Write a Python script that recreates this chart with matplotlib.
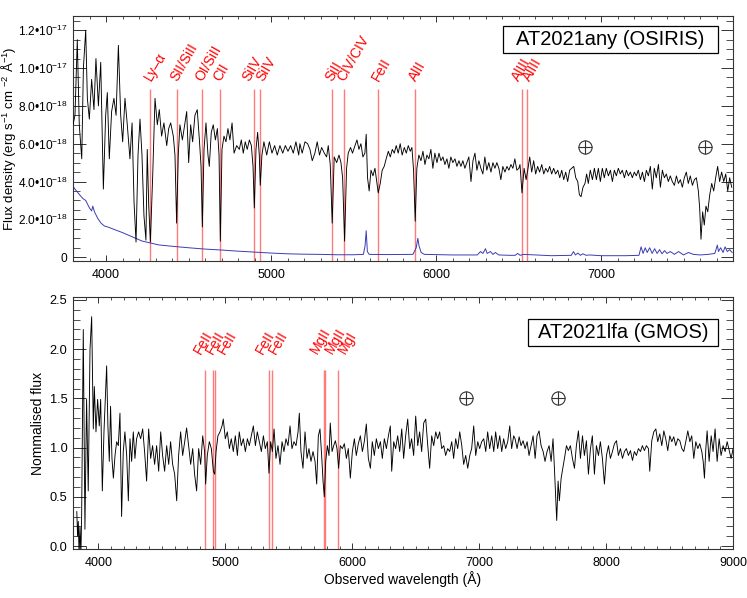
"""Two-panel spectrum figure: AT2021any (OSIRIS) and AT2021lfa (GMOS)."""

import matplotlib

matplotlib.use("Agg")
import matplotlib.pyplot as plt
import numpy as np
from matplotlib.patches import Rectangle
from matplotlib.ticker import FixedLocator, FuncFormatter, MultipleLocator

plt.rcParams["font.family"] = ["Liberation Sans", "DejaVu Sans"]
plt.rcParams["mathtext.fontset"] = "custom"
plt.rcParams["mathtext.rm"] = "Liberation Sans"
plt.rcParams["mathtext.it"] = "Liberation Sans:italic"
plt.rcParams["mathtext.bf"] = "Liberation Sans:bold"

# --- AT2021any (OSIRIS): flux in units of 1e-18 erg/s/cm^2/A ---
any_wave = [
    3800, 3812, 3826, 3838, 3853, 3863, 3877, 3887, 3899, 3913, 3927, 3939, 3954, 3968, 3984,
    3998, 4008, 4020, 4034, 4048, 4061, 4075, 4089, 4101, 4115, 4129, 4145, 4158, 4170, 4182,
    4194, 4206, 4218, 4230, 4242, 4250, 4259, 4269, 4283, 4297, 4311, 4323, 4337, 4351, 4368,
    4380, 4392, 4408, 4418, 4428, 4438, 4448, 4463, 4477, 4489, 4501, 4513, 4525, 4539, 4553,
    4566, 4576, 4584, 4594, 4606, 4618, 4626, 4638, 4650, 4663, 4675, 4685, 4693, 4703, 4715,
    4727, 4739, 4751, 4764, 4776, 4792, 4808, 4820, 4832, 4844, 4856, 4869, 4881, 4891, 4899,
    4909, 4919, 4929, 4935, 4945, 4957, 4974, 4990, 5006, 5022, 5038, 5054, 5071, 5087, 5103,
    5119, 5135, 5151, 5168, 5175, 5189, 5206, 5222, 5236, 5250, 5266, 5280, 5294, 5307, 5323,
    5337, 5347, 5359, 5371, 5383, 5398, 5412, 5424, 5434, 5446, 5458, 5468, 5482, 5494, 5509,
    5521, 5533, 5545, 5557, 5569, 5577, 5585, 5595, 5606, 5618, 5630, 5642, 5650, 5662, 5674,
    5686, 5698, 5711, 5723, 5735, 5747, 5759, 5771, 5783, 5795, 5808, 5820, 5832, 5844, 5854,
    5864, 5874, 5884, 5896, 5909, 5921, 5933, 5945, 5957, 5969, 5981, 5993, 6006, 6018, 6030,
    6042, 6054, 6066, 6078, 6090, 6102, 6115, 6127, 6139, 6151, 6163, 6175, 6187, 6199, 6212,
    6224, 6236, 6248, 6260, 6272, 6284, 6296, 6308, 6320, 6333, 6345, 6357, 6369, 6381, 6393,
    6405, 6418, 6430, 6442, 6454, 6466, 6478, 6490, 6502, 6509, 6521, 6534, 6546, 6556, 6568,
    6580, 6592, 6604, 6616, 6628, 6641, 6653, 6665, 6677, 6689, 6701, 6713, 6725, 6738, 6750,
    6762, 6774, 6786, 6798, 6810, 6822, 6835, 6847, 6859, 6869, 6879, 6891, 6903, 6913, 6923,
    6935, 6948, 6960, 6972, 6984, 6996, 7008, 7020, 7032, 7045, 7057, 7069, 7081, 7093, 7105,
    7117, 7129, 7142, 7154, 7166, 7178, 7190, 7202, 7214, 7226, 7239, 7251, 7263, 7275, 7287,
    7299, 7311, 7323, 7335, 7348, 7360, 7372, 7384, 7396, 7408, 7420, 7432, 7445, 7457, 7469,
    7481, 7493, 7505, 7517, 7529, 7541, 7554, 7566, 7578, 7590, 7598, 7606, 7616, 7626, 7636,
    7647, 7659, 7671, 7683, 7695, 7707, 7719, 7731, 7744, 7756, 7768, 7780, 7792,
]
any_flux = [
    7.0, 7.5, 11.5, 7.0, 5.2, 10.0, 12.0, 8.4, 7.3, 9.4, 7.8, 10.5, 8.0, 10.3, 3.6,
    7.5, 8.7, 5.2, 7.7, 8.4, 7.5, 11.2, 7.5, 6.1, 8.4, 7.0, 5.2, 7.1, 2.9, 0.8,
    5.4, 7.3, 5.4, 2.2, 0.9, 5.7, 2.7, 0.8, 4.3, 8.4, 7.0, 7.8, 6.4, 7.1, 5.9,
    6.8, 7.1, 6.4, 5.4, 1.8, 5.4, 7.0, 6.2, 7.0, 7.7, 5.0, 7.0, 6.1, 7.5, 7.8,
    6.2, 4.8, 1.6, 5.7, 7.1, 5.4, 4.8, 6.6, 7.0, 6.2, 6.8, 5.4, 0.85, 5.7, 6.4,
    6.1, 6.8, 6.2, 7.1, 5.5, 5.9, 5.7, 6.2, 5.5, 6.1, 5.7, 6.2, 5.9, 4.8, 2.6,
    5.7, 6.6, 5.4, 3.8, 5.4, 6.1, 5.4, 6.1, 5.5, 5.9, 5.4, 5.9, 5.5, 5.9, 5.6,
    5.9, 5.5, 6.1, 5.4, 6.0, 5.5, 6.1, 6.0, 5.7, 5.1, 5.5, 6.1, 5.4, 5.8, 5.5,
    5.3, 5.9, 4.9, 1.8, 5.3, 5.0, 5.4, 5.0, 4.2, 0.85, 4.7, 5.5, 5.8, 5.5, 5.9,
    6.2, 5.7, 6.0, 5.3, 5.5, 6.5, 4.2, 3.5, 4.6, 4.3, 4.7, 3.9, 3.4, 3.9, 4.6,
    4.8, 5.2, 5.6, 5.3, 5.7, 5.5, 5.9, 5.5, 6.0, 5.4, 5.8, 5.5, 5.9, 5.6, 5.8,
    4.6, 1.9, 4.7, 5.4, 5.1, 5.6, 4.9, 5.4, 5.2, 5.7, 4.7, 5.5, 5.0, 5.5, 5.1,
    5.3, 4.9, 5.2, 4.7, 5.3, 5.0, 5.2, 4.8, 5.1, 4.8, 5.1, 4.7, 5.0, 5.3, 4.0,
    5.1, 5.5, 4.6, 5.1, 4.7, 4.4, 5.3, 4.6, 5.0, 4.5, 5.0, 4.7, 5.0, 4.7, 4.1,
    4.8, 4.5, 4.8, 4.6, 4.9, 4.7, 5.2, 4.6, 4.7, 4.9, 3.4, 4.7, 4.1, 4.6, 5.3,
    4.5, 5.1, 4.4, 4.8, 4.5, 4.9, 4.4, 4.7, 4.5, 4.8, 4.4, 4.7, 4.4, 4.6, 4.2,
    4.6, 4.1, 4.5, 4.0, 4.6, 4.7, 4.8, 4.2, 4.0, 3.3, 3.2, 3.7, 3.9, 4.4, 3.9,
    4.6, 4.1, 4.7, 4.1, 4.7, 4.0, 4.7, 4.2, 4.7, 4.3, 4.6, 4.0, 4.6, 4.3, 4.7,
    4.4, 4.6, 4.2, 4.6, 4.3, 4.5, 4.2, 4.5, 4.3, 4.6, 4.1, 4.5, 4.0, 4.6, 4.3,
    4.8, 3.6, 4.7, 4.2, 4.9, 3.7, 4.6, 4.2, 4.4, 4.0, 4.3, 4.0, 3.8, 4.3, 3.9,
    4.1, 3.7, 4.2, 4.5, 3.9, 4.3, 3.8, 4.1, 4.2, 3.5, 2.6, 0.95, 2.4, 1.7, 2.7,
    2.4, 3.3, 3.9, 3.5, 4.2, 4.8, 4.0, 4.5, 4.0, 4.4, 3.5, 4.2, 3.7,
]

# error spectrum (blue), same units
err_wave = [
    3800, 3812, 3840, 3860, 3877, 3900, 3913, 3920, 3930, 3950, 3970, 3990, 4010, 4040, 4070,
    4100, 4140, 4180, 4220, 4270, 4320, 4400, 4500, 4600, 4700, 4800, 4900, 5000, 5100, 5200,
    5300, 5400, 5500, 5560, 5570, 5577, 5584, 5595, 5700, 5860, 5880, 5890, 5897, 5910, 5930,
    6100, 6250, 6270, 6284, 6300, 6310, 6330, 6345, 6360, 6380, 6450, 6480, 6495, 6510, 6530,
    6700, 6820, 6833, 6845, 6860, 6875, 6890, 6910, 6930, 7000, 7150, 7230, 7243, 7255, 7268,
    7280, 7295, 7310, 7325, 7340, 7355, 7370, 7385, 7400, 7420, 7445, 7470, 7500, 7530, 7560,
    7600, 7650, 7690, 7705, 7712, 7725, 7740, 7752, 7765, 7780, 7795,
]
err_flux = [
    3.75, 3.6, 3.3, 3.1, 3.0, 2.6, 2.45, 2.7, 2.4, 2.05, 1.8, 1.65, 1.6, 1.5, 1.4,
    1.3, 1.15, 1.0, 0.85, 0.75, 0.65, 0.58, 0.5, 0.43, 0.38, 0.32, 0.27, 0.22, 0.18, 0.16,
    0.15, 0.13, 0.13, 0.15, 0.6, 1.4, 0.3, 0.15, 0.14, 0.15, 0.5, 1.0, 0.6, 0.25, 0.15,
    0.12, 0.12, 0.3, 0.2, 0.45, 0.2, 0.3, 0.15, 0.25, 0.12, 0.1, 0.1, 0.2, 0.1, 0.15,
    0.08, 0.1, 0.3, 0.12, 0.22, 0.1, 0.18, 0.1, 0.12, 0.08, 0.08, 0.1, 0.55, 0.2, 0.5,
    0.25, 0.5, 0.2, 0.45, 0.2, 0.4, 0.18, 0.35, 0.2, 0.3, 0.15, 0.3, 0.12, 0.25, 0.15,
    0.12, 0.15, 0.2, 0.64, 0.3, 0.5, 0.25, 0.55, 0.3, 0.4, 0.25,
]

any_lines = [4269, 4428, 4584, 4693, 4899, 4933, 5371, 5444, 5650, 5874, 6523, 6553]
any_labels = ["Ly–α", "SII/SiII", "OI/SiII", "CII", "SiIV", "SiIV", "SiII", "CIV/CIV",
              "FeII", "AlII", "AlIII", "AlIII"]
any_telluric = [6903, 7630]

# --- AT2021lfa (GMOS): normalised flux ---
lfa_wave = [
    3830, 3836, 3842, 3848, 3855, 3862, 3868, 3881, 3894, 3907, 3920, 3934, 3947, 3960, 3968,
    3981, 3994, 4007, 4018, 4031, 4044, 4054, 4065, 4075, 4086, 4096, 4107, 4118, 4131, 4144,
    4157, 4170, 4183, 4196, 4209, 4223, 4236, 4249, 4262, 4275, 4288, 4301, 4317, 4333, 4349,
    4364, 4380, 4396, 4412, 4427, 4443, 4459, 4475, 4491, 4506, 4522, 4538, 4554, 4569, 4585,
    4601, 4617, 4632, 4648, 4664, 4680, 4695, 4711, 4727, 4743, 4758, 4774, 4790, 4806, 4822,
    4837, 4845, 4858, 4874, 4890, 4906, 4916, 4927, 4942, 4958, 4974, 4984, 5000, 5016, 5032,
    5047, 5063, 5079, 5095, 5110, 5126, 5142, 5158, 5174, 5189, 5205, 5221, 5237, 5252, 5268,
    5284, 5300, 5315, 5331, 5344, 5357, 5371, 5384, 5399, 5415, 5431, 5447, 5462, 5478, 5494,
    5510, 5525, 5541, 5557, 5573, 5583, 5596, 5612, 5628, 5644, 5659, 5675, 5691, 5707, 5720,
    5733, 5746, 5759, 5770, 5780, 5791, 5804, 5817, 5827, 5841, 5854, 5867, 5880, 5893, 5906,
    5922, 5938, 5954, 5969, 5985, 6001, 6017, 6032, 6048, 6064, 6080, 6095, 6111, 6127, 6143,
    6158, 6174, 6190, 6206, 6222, 6237, 6253, 6269, 6285, 6300, 6311, 6327, 6342, 6358, 6374,
    6390, 6405, 6421, 6437, 6453, 6468, 6484, 6500, 6516, 6531, 6547, 6563, 6579, 6595, 6610,
    6626, 6642, 6658, 6673, 6689, 6705, 6721, 6736, 6752, 6768, 6784, 6799, 6815, 6831, 6847,
    6863, 6878, 6894, 6910, 6926, 6941, 6957, 6973, 6989, 7004, 7020, 7036, 7052, 7067, 7083,
    7099, 7115, 7130, 7146, 7162, 7178, 7193, 7209, 7225, 7241, 7256, 7272, 7283, 7299, 7315,
    7330, 7346, 7362, 7378, 7393, 7409, 7425, 7441, 7456, 7472, 7488, 7504, 7519, 7535, 7551,
    7567, 7582, 7593, 7604, 7611, 7622, 7632, 7646, 7659, 7672, 7688, 7703, 7719, 7735, 7751,
    7766, 7782, 7798, 7814, 7829, 7845, 7861, 7877, 7892, 7908, 7924, 7940, 7955, 7971, 7987,
    8003, 8019, 8034, 8050, 8066, 8082, 8097, 8113, 8129, 8145, 8160, 8176, 8192, 8208, 8223,
    8239, 8255, 8271, 8286, 8302, 8318, 8334, 8344, 8360, 8376, 8392, 8407, 8423, 8439, 8455,
    8470, 8486, 8502, 8518, 8533, 8549, 8565, 8581, 8597, 8612, 8628, 8644, 8660, 8675, 8691,
    8707, 8723, 8738, 8754, 8765, 8775, 8786, 8796, 8812, 8828, 8843, 8859, 8875, 8891, 8906,
    8922, 8938, 8954, 8970, 8985, 9001,
]
lfa_flux = [
    0.35, 0.1, 0.25, -0.1, 0.2, -0.1, 0.3, 2.2, 0.17, 1.49, 0.56, 2.0, 2.33, 1.19, 1.62,
    1.16, 1.49, 1.22, 1.49, 0.56, 1.16, 1.49, 1.83, 1.22, 0.86, 1.42, 0.89, 0.69, 0.92, 1.06,
    1.02, 1.35, 0.30, 0.96, 1.16, 0.92, 0.46, 1.09, 0.86, 1.16, 0.89, 1.09, 1.16, 1.09, 1.19,
    0.96, 0.66, 1.19, 0.89, 1.02, 0.83, 1.02, 0.76, 1.16, 0.92, 0.76, 1.02, 0.83, 1.06, 0.83,
    0.73, 0.46, 0.92, 1.16, 0.92, 1.06, 1.20, 1.02, 0.83, 0.99, 0.73, 0.56, 0.99, 0.83, 1.12,
    0.96, 0.63, 0.92, 1.06, 0.99, 0.76, 0.73, 0.96, 1.12, 1.16, 1.22, 1.29, 1.09, 1.16, 0.99,
    1.09, 0.96, 1.12, 0.92, 1.16, 1.02, 1.09, 0.96, 1.09, 1.02, 1.12, 1.22, 1.02, 1.16, 1.06,
    0.96, 1.12, 0.99, 1.06, 0.74, 1.06, 0.96, 1.19, 0.89, 1.02, 0.83, 1.06, 0.96, 1.09, 1.02,
    1.22, 0.99, 1.06, 1.02, 1.16, 1.35, 0.96, 0.79, 1.16, 0.89, 0.99, 0.86, 0.96, 0.86, 0.63,
    1.12, 1.19, 0.92, 0.66, 0.50, 0.86, 1.02, 0.92, 1.25, 0.96, 1.02, 1.07, 0.99, 0.79, 1.02,
    0.99, 1.04, 0.89, 0.99, 0.69, 0.96, 1.09, 0.92, 1.04, 1.12, 0.96, 1.06, 1.24, 0.89, 0.79,
    1.06, 0.92, 1.09, 0.99, 1.06, 0.89, 1.09, 0.99, 1.12, 1.22, 0.76, 1.06, 0.99, 1.12, 0.96,
    1.19, 0.89, 1.12, 1.29, 0.99, 1.09, 0.92, 1.32, 1.02, 1.16, 0.96, 1.25, 1.29, 1.02, 0.79,
    1.12, 1.02, 1.16, 1.09, 1.16, 0.99, 1.02, 0.92, 0.99, 0.96, 1.06, 0.89, 1.09, 0.99, 1.16,
    1.02, 0.83, 0.92, 0.79, 0.92, 0.99, 1.22, 0.92, 1.06, 0.99, 1.06, 1.09, 0.96, 1.16, 0.99,
    1.12, 0.96, 1.16, 0.99, 1.12, 0.96, 1.09, 0.99, 1.06, 1.22, 0.99, 1.12, 1.09, 0.99, 1.11,
    1.02, 1.07, 0.99, 1.06, 0.92, 1.02, 1.12, 0.89, 1.12, 1.17, 1.02, 0.96, 0.86, 0.96, 1.02,
    0.86, 1.09, 0.79, 0.46, 0.26, 0.66, 0.46, 0.69, 0.79, 0.89, 1.02, 0.97, 1.02, 0.89, 0.79,
    1.02, 1.17, 0.89, 1.12, 0.92, 1.07, 0.73, 0.99, 1.12, 0.73, 1.02, 0.92, 1.06, 0.89, 0.63,
    0.92, 1.02, 0.89, 0.96, 1.04, 1.07, 0.92, 0.99, 0.89, 0.96, 0.99, 0.92, 0.97, 0.87, 0.96,
    0.92, 0.99, 0.96, 1.02, 0.97, 1.02, 0.99, 0.76, 1.07, 1.16, 1.19, 1.06, 1.14, 1.02, 1.17,
    1.09, 0.97, 1.12, 1.06, 1.11, 1.02, 1.09, 1.07, 0.99, 0.96, 1.06, 1.17, 1.06, 1.12, 0.89,
    1.06, 0.99, 1.04, 0.96, 0.86, 0.69, 0.99, 1.17, 0.86, 1.12, 0.96, 1.19, 0.86, 1.09, 0.92,
    1.02, 0.96, 1.06, 0.97, 0.89, 0.99,
]

lfa_lines = [4842, 4906, 4921, 5342, 5370, 5776, 5788, 5891]
lfa_labels = ["FeII", "FeII", "FeII", "FeII", "FeII", "MgII", "MgII", "MgI"]
lfa_telluric = [6897, 7622]

LINE_RED = "#ff7a7a"
AXIS_GREY = "#333333"
PX = 0.72  # points per pixel at dpi=100

# sideways nudges (pixels) so that crowded line labels do not sit on top of each other
any_label_shift = [3, 3, 3, 3, -2, 6, 3, 3, 3, 3, -1, 5]
lfa_label_shift = [-2, 2, 12, -3, 6, -4, 10, 9]


def sci_label(v, pos):
    if abs(v) < 1e-25:
        return "0"
    e = int(np.floor(np.log10(abs(v)) + 1e-6))
    return f"{v / 10**e:.1f}•10$^{{{e}}}$"


def style_axes(ax, yticks, yminor, ylabelsize):
    ax.xaxis.set_major_locator(MultipleLocator(1000))
    ax.xaxis.set_minor_locator(MultipleLocator(100))
    ax.yaxis.set_major_locator(FixedLocator(yticks))
    ax.yaxis.set_minor_locator(MultipleLocator(yminor))
    ax.tick_params(which="both", direction="in", top=True, right=True,
                   colors=AXIS_GREY, labelcolor="black")
    ax.tick_params(axis="x", which="major", length=4.5, width=0.7, pad=6, labelsize=9)
    ax.tick_params(axis="x", which="minor", length=2.2, width=0.6)
    ax.tick_params(axis="y", which="major", length=9, width=0.7, pad=4, labelsize=ylabelsize)
    ax.tick_params(axis="y", which="minor", length=5, width=0.6)
    for sp in ax.spines.values():
        sp.set_color(AXIS_GREY)
        sp.set_linewidth(0.8)


def mark_lines(ax, waves, labels, shifts, ytop, ylab, ybottom):
    ax.vlines(waves, ybottom, ytop, color=LINE_RED, lw=1.0, zorder=1)
    for w, lab, dx in zip(waves, labels, shifts):
        ax.annotate(lab, xy=(w, ylab), xytext=(dx * PX, 0), textcoords="offset points",
                    rotation=60, rotation_mode="anchor", ha="left", va="bottom",
                    color="red", fontsize=10)


def telluric(ax, waves, y):
    ax.plot(waves, [y] * len(waves), ls="none", marker="o", ms=9.5,
            mfc="none", mec="#333333", mew=0.8)
    ax.plot(waves, [y] * len(waves), ls="none", marker="+", ms=9.5,
            mec="#333333", mew=0.8)


def name_box(ax, x0, y0, x1, y1, text):
    ax.add_patch(Rectangle((x0, y0), x1 - x0, y1 - y0, transform=ax.transAxes,
                           fc="white", ec="black", lw=0.9, zorder=5))
    ax.text((x0 + x1) / 2, (y0 + y1) / 2, text, transform=ax.transAxes,
            ha="center", va="center", fontsize=14.5, zorder=6)


def main():
    fig = plt.figure(figsize=(7.47, 5.98), dpi=100)

    # top panel: AT2021any
    ax = fig.add_axes([73 / 747, 1 - 261 / 598, 660 / 747, 245 / 598])
    scale = 1e-18
    ylo, yhi = -0.2 * scale, 12.75 * scale
    mark_lines(ax, any_lines, any_labels, any_label_shift, 8.9 * scale, 9.2 * scale, ylo)
    ax.plot(err_wave, np.array(err_flux) * scale, color="#3c3cb4", lw=0.7, zorder=2)
    ax.plot(any_wave, np.array(any_flux) * scale, color="black", lw=0.65, zorder=3)
    telluric(ax, any_telluric, 5.85 * scale)
    ax.set_xlim(3800, 7800)
    ax.set_ylim(ylo, yhi)
    style_axes(ax, [k * 2e-18 for k in range(7)], 5e-19, 8.6)
    ax.yaxis.set_major_formatter(FuncFormatter(sci_label))
    ax.set_ylabel("Flux density (erg s$^{-1}$ cm $^{-2}$ Å$^{-1}$)", fontsize=9.5)
    ax.yaxis.set_label_coords(-0.084, 0.5)
    name_box(ax, 0.6515, 0.849, 0.977, 0.959, "AT2021any (OSIRIS)")

    # bottom panel: AT2021lfa
    ax2 = fig.add_axes([73 / 747, 1 - 549 / 598, 660 / 747, 252 / 598])
    ylo2, yhi2 = -0.03, 2.53
    mark_lines(ax2, lfa_lines, lfa_labels, lfa_label_shift, 1.79, 1.93, ylo2)
    ax2.plot(lfa_wave, lfa_flux, color="black", lw=0.65, zorder=3)
    telluric(ax2, lfa_telluric, 1.5)
    ax2.set_xlim(3800, 9000)
    ax2.set_ylim(ylo2, yhi2)
    style_axes(ax2, [0.0, 0.5, 1.0, 1.5, 2.0, 2.5], 0.1, 9.2)
    ax2.yaxis.set_major_formatter(FuncFormatter(lambda v, p: f"{v:.1f}"))
    ax2.set_ylabel("Nommalised flux", fontsize=10)
    ax2.yaxis.set_label_coords(-0.043, 0.5)
    ax2.set_xlabel("Observed wavelength (Å)", fontsize=10, labelpad=1)
    name_box(ax2, 0.689, 0.806, 0.977, 0.913, "AT2021lfa (GMOS)")

    fig.savefig("out.png", dpi=100)
    plt.close(fig)


if __name__ == "__main__":
    main()
